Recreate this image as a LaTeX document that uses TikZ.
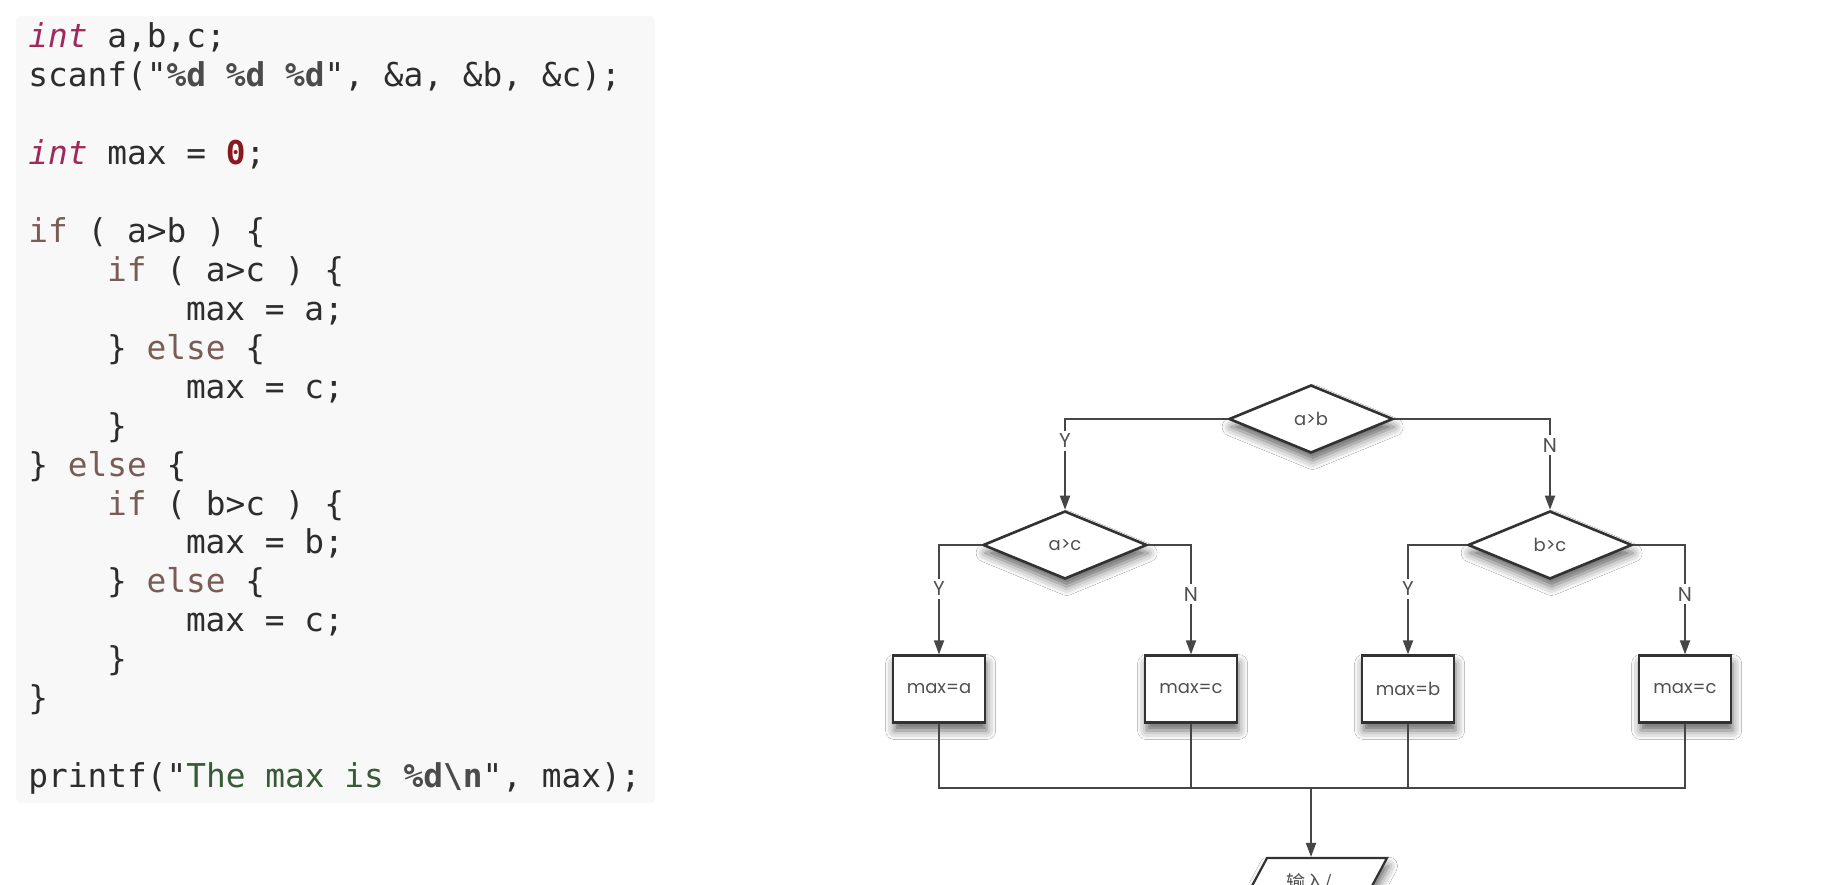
\documentclass[tikz,border=0pt]{standalone}
\usepackage{fontspec}
\usepackage{xcolor}
\usetikzlibrary{shapes.geometric,arrows.meta,shadows.blur}
\setmainfont{Poppins}
\newfontfamily\codefont{DejaVu Sans Mono}
\newfontfamily\cjkfont{Noto Sans CJK SC}
\definecolor{CodeBg}{RGB}{248,248,248}
\definecolor{CodeInk}{RGB}{45,45,45}
\definecolor{TypeRed}{RGB}{160,40,90}
\definecolor{KeyBrown}{RGB}{122,92,86}
\definecolor{NumRed}{RGB}{135,25,30}
\definecolor{StrGreen}{RGB}{55,90,55}
\definecolor{FmtGray}{RGB}{75,75,75}
\definecolor{LineDark}{RGB}{50,50,50}
\definecolor{LineGray}{RGB}{70,70,70}
\definecolor{LabelGray}{RGB}{80,80,80}
\newcommand{\cType}[1]{{\color{TypeRed}\itshape #1}}
\newcommand{\cKw}[1]{{\color{KeyBrown}#1}}
\newcommand{\cNum}[1]{{\color{NumRed}\bfseries #1}}
\newcommand{\cStr}[1]{{\color{StrGreen}#1}}
\newcommand{\cFmt}[1]{{\color{FmtGray}\bfseries #1}}
\tikzset{
  softshadow/.style={blur shadow={shadow xshift=0.8pt, shadow yshift=-4pt,
    shadow blur radius=4.5pt, shadow opacity=60}},
  code/.style={anchor=base west, inner sep=0pt, text=CodeInk,
    font=\codefont\fontsize{16.4}{20}\selectfont},
  decision/.style={diamond, draw=LineDark, line width=1.3pt, fill=white,
    minimum width=82pt, minimum height=34pt, inner sep=0pt, text=LabelGray,
    font=\fontsize{9}{11}\selectfont, softshadow},
  action/.style={rectangle, draw=LineDark, line width=1.1pt, fill=white,
    minimum width=46pt, minimum height=33.5pt, inner sep=0pt, text=LabelGray,
    font=\fontsize{9}{11}\selectfont, softshadow},
  ioshape/.style={trapezium, trapezium left angle=62, trapezium right angle=118,
    trapezium stretches=true, draw=LineDark, line width=1.1pt, fill=white,
    minimum width=78pt, minimum height=33.5pt, inner sep=0pt, text=LabelGray,
    text height=8pt, text depth=10.3pt, font=\cjkfont\fontsize{9.5}{11}\selectfont,
    softshadow},
  flow/.style={draw=LineGray, line width=0.9pt},
  arr/.style={flow, -{Triangle[length=7pt,width=5pt]}},
  yn/.style={fill=white, inner sep=1.5pt, text=LabelGray, font=\fontsize{10}{12}\selectfont},
}
\begin{document}
\begin{tikzpicture}[x=0.5pt, y=-0.5pt]
  \useasboundingbox (0,0) rectangle (1839,884);
  \clip (0,0) rectangle (1839,884);
  \fill[white] (0,0) rectangle (1839,884);
  % code panel
  \fill[CodeBg, rounded corners=3pt] (16,16) rectangle (655,803);
  \node[code] (l01) at (28,47.7) {\cType{int} a,b,c;};
  \node[code] (l02) at (28,86.6) {scanf("\cFmt{\%d} \cFmt{\%d} \cFmt{\%d}", \&a, \&b, \&c);};
  \node[code] (l03) at (28,164.5) {\cType{int} max = \cNum{0};};
  \node[code] (l04) at (28,242.4) {\cKw{if} ( a>b ) \{};
  \node[code] (l05) at (106.8,281.3) {\cKw{if} ( a>c ) \{};
  \node[code] (l06) at (185.6,320.3) {max = a;};
  \node[code] (l07) at (106.8,359.2) {\} \cKw{else} \{};
  \node[code] (l08) at (185.6,398.2) {max = c;};
  \node[code] (l09) at (106.8,437.1) {\}};
  \node[code] (l10) at (28,476.0) {\} \cKw{else} \{};
  \node[code] (l11) at (106.8,515.0) {\cKw{if} ( b>c ) \{};
  \node[code] (l12) at (185.6,553.9) {max = b;};
  \node[code] (l13) at (106.8,592.9) {\} \cKw{else} \{};
  \node[code] (l14) at (185.6,631.8) {max = c;};
  \node[code] (l15) at (106.8,670.7) {\}};
  \node[code] (l16) at (28,709.7) {\}};
  \node[code] (l17) at (28,787.6) {printf("\cStr{The max is }\cFmt{\%d\textbackslash n}", max);};
  % flowchart
  \node[decision] (ab) at (1311,419) {a>b};
  \node[decision] (ac) at (1065,545) {a>c};
  \node[decision] (bc) at (1550,545) {b>c};
  \node[action] (ma) at (939,689) {max=a};
  \node[action] (mc1) at (1191,689) {max=c};
  \node[action] (mb) at (1408,689) {max=b};
  \node[action] (mc2) at (1685,689) {max=c};
  \node[ioshape] (io) at (1309,891.5) {输入/};
  \coordinate (join) at (1311,788);
  \draw[arr] (ab.west) -| node[yn,pos=0.62]{Y} (ac.north);
  \draw[arr] (ab.east) -| node[yn,pos=0.645]{N} (bc.north);
  \draw[arr] (ac.west) -| node[yn,pos=0.70]{Y} (ma.north);
  \draw[arr] (ac.east) -| node[yn,pos=0.725]{N} (mc1.north);
  \draw[arr] (bc.west) -| node[yn,pos=0.70]{Y} (mb.north);
  \draw[arr] (bc.east) -| node[yn,pos=0.725]{N} (mc2.north);
  \draw[flow] (ma.south) |- (mc2.south |- join) -- (mc2.south);
  \draw[flow] (mc1.south) -- (mc1.south |- join);
  \draw[flow] (mb.south) -- (mb.south |- join);
  \draw[arr] (join) -- (join |- io.north);
\end{tikzpicture}
\end{document}
